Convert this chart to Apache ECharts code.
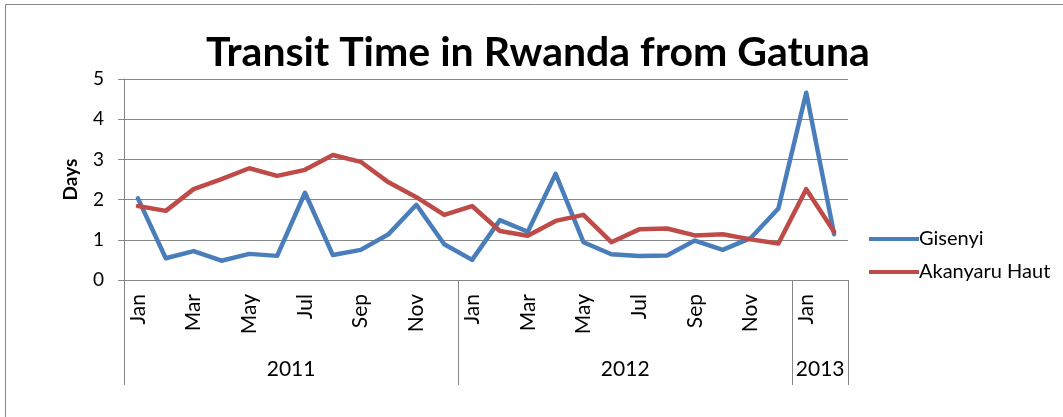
<!DOCTYPE html>
<html>
<head>
<meta charset="utf-8">
<script src="https://cdn.jsdelivr.net/npm/echarts@6/dist/echarts.min.js"></script>
<style>
  html, body { margin: 0; padding: 0; background: #fff; }
  #chart { width: 1063px; height: 417px; }
</style>
</head>
<body>
<div id="chart"></div>
<script>
// Monthly transit time (days), Jan 2011 – Feb 2013
const months = [
  'Jan','Feb','Mar','Apr','May','Jun','Jul','Aug','Sep','Oct','Nov','Dec',
  'Jan','Feb','Mar','Apr','May','Jun','Jul','Aug','Sep','Oct','Nov','Dec',
  'Jan','Feb'
];
const years = ['2011', '2012', '2013'];
const monthsPerYear = [12, 12, 2];

const gisenyi = [
  2.03, 0.54, 0.72, 0.48, 0.65, 0.60, 2.17, 0.62, 0.75, 1.14, 1.87, 0.89,
  0.50, 1.49, 1.20, 2.64, 0.94, 0.64, 0.60, 0.61, 0.98, 0.75, 1.04, 1.78,
  4.66, 1.14
];
const akanyaru = [
  1.84, 1.72, 2.26, 2.51, 2.78, 2.59, 2.74, 3.11, 2.94, 2.43, 2.06, 1.62,
  1.84, 1.22, 1.10, 1.47, 1.62, 0.94, 1.26, 1.28, 1.11, 1.14, 1.01, 0.91,
  2.26, 1.20
];
const yTicks = [0, 1, 2, 3, 4, 5];

// year group boundaries and centres along the month axis
const boundaries = [0];
const centres = [];
monthsPerYear.forEach(n => {
  const start = boundaries[boundaries.length - 1];
  centres.push(start + n / 2);
  boundaries.push(start + n);
});

const FONT = 'Lato, "Liberation Sans", sans-serif';
const AXIS_GRAY = '#868686';

const chart = echarts.init(document.getElementById('chart'), null, { renderer: 'canvas' });

chart.setOption({
  backgroundColor: '#ffffff',
  animation: false,
  textStyle: { fontFamily: FONT, color: '#000' },
  title: {
    text: 'Transit Time in Rwanda from Gatuna',
    left: 533,
    textAlign: 'center',
    top: 27,
    textStyle: { fontFamily: FONT, fontSize: 41, fontWeight: 'bold', color: '#000' }
  },
  graphic: [{
    type: 'rect',
    shape: { x: 5.5, y: 4.5, width: 1080, height: 440 },
    style: { fill: null, stroke: AXIS_GRAY, lineWidth: 1 },
    silent: true
  }],
  legend: {
    orient: 'vertical',
    left: 864,
    top: 224,
    icon: 'rect',
    itemWidth: 50,
    itemHeight: 4,
    itemGap: 13,
    textStyle: { fontFamily: FONT, fontSize: 20, lineHeight: 20, color: '#000', padding: [0, 0, 0, -5] },
    data: ['Gisenyi', 'Akanyaru Haut']
  },
  grid: { left: 124, right: 215, top: 79, bottom: 137, containLabel: false },
  xAxis: [{
    type: 'category',
    data: months,
    boundaryGap: true,
    axisLine: { lineStyle: { color: AXIS_GRAY, width: 1 } },
    axisTick: { show: false },
    axisLabel: {
      interval: 1,
      rotate: 90,
      margin: 14,
      fontFamily: FONT,
      fontSize: 21,
      color: '#000'
    }
  }, {
    type: 'value',
    position: 'bottom',
    min: 0,
    max: months.length,
    axisLine: { show: false },
    splitLine: { show: false },
    axisTick: {
      show: true,
      customValues: boundaries,
      length: 105,
      lineStyle: { color: AXIS_GRAY, width: 1 }
    },
    axisLabel: {
      customValues: centres,
      margin: 79,
      fontFamily: FONT,
      fontSize: 21,
      color: '#000',
      formatter: v => years[centres.indexOf(v)]
    }
  }],
  yAxis: {
    type: 'value',
    min: yTicks[0],
    max: yTicks[yTicks.length - 1],
    interval: 1,
    name: 'Days',
    nameLocation: 'middle',
    nameGap: 44,
    nameRotate: 90,
    nameTextStyle: { fontFamily: FONT, fontSize: 19, fontWeight: 'bold', color: '#000' },
    axisLine: { show: true, lineStyle: { color: AXIS_GRAY, width: 1 } },
    axisTick: { show: true, length: 6, lineStyle: { color: AXIS_GRAY } },
    axisLabel: { margin: 20, fontFamily: FONT, fontSize: 19, color: '#000' },
    splitLine: { show: true, lineStyle: { color: AXIS_GRAY, width: 1 } }
  },
  series: [{
    name: 'Gisenyi',
    type: 'line',
    data: gisenyi,
    symbol: 'none',
    color: '#4A7EBB',
    lineStyle: { width: 4.5, color: '#4A7EBB', join: 'round', cap: 'round' }
  }, {
    name: 'Akanyaru Haut',
    type: 'line',
    data: akanyaru,
    symbol: 'none',
    color: '#BE4B48',
    lineStyle: { width: 4.5, color: '#BE4B48', join: 'round', cap: 'round' }
  }]
});
</script>
</body>
</html>
